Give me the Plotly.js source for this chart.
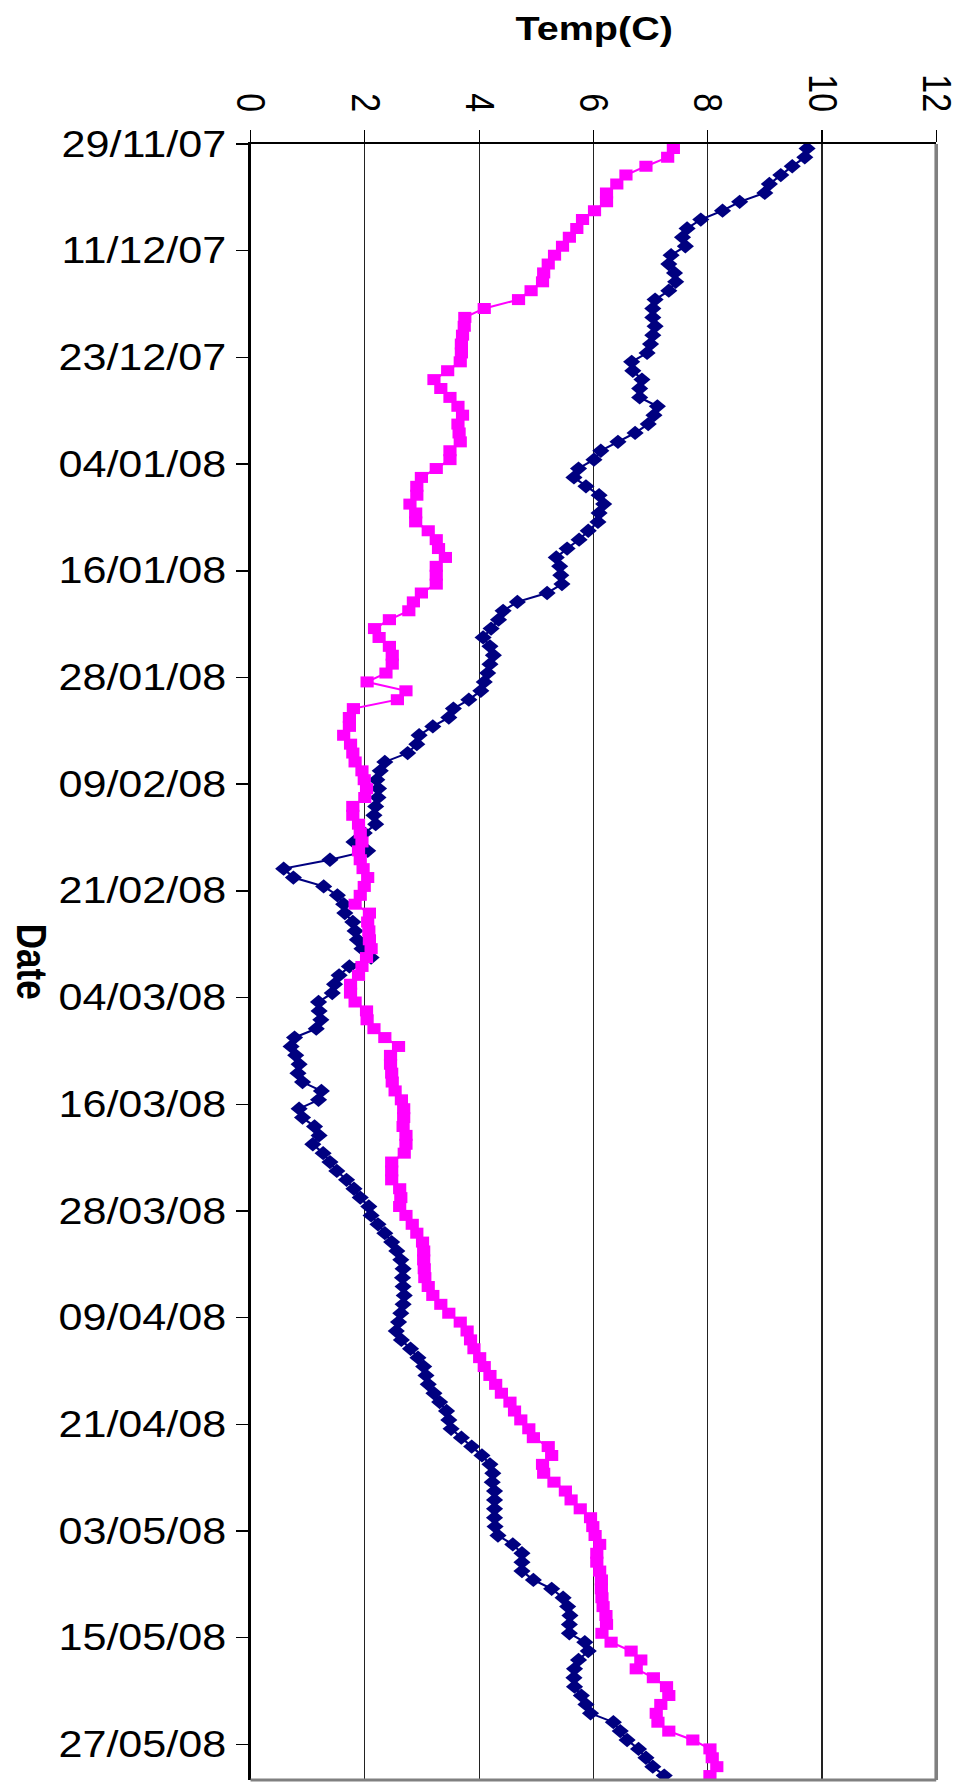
<!DOCTYPE html>
<html>
<head>
<meta charset="utf-8">
<script src="https://cdn.plot.ly/plotly-3.0.1.min.js"></script>
<style>
  html, body { margin: 0; padding: 0; background: #fff; }
  #wrap { width: 959px; height: 1784px; overflow: hidden; position: relative; }
  /* the original picture is stretched horizontally; reproduce that */
  #chart { width: 800px; height: 1784px; transform: scaleX(1.19875); transform-origin: 0 0; }
</style>
</head>
<body>
<div id="wrap"><div id="chart"></div></div>
<script>
// First date of the daily series
const startDate = "2007-11-29";

// Series 1 (navy diamonds), temperature in deg C, one value per day
const series1 = [
  9.74, 9.70, 9.48, 9.28, 9.08, 9.00, 8.56, 8.26, 7.88, 7.64,
  7.56, 7.61, 7.36, 7.32, 7.42, 7.44, 7.32, 7.08, 7.04, 7.04,
  7.08, 7.04, 7.00, 6.94, 6.67, 6.69, 6.85, 6.81, 6.81, 7.12,
  7.06, 6.96, 6.73, 6.43, 6.13, 6.01, 5.74, 5.66, 5.87, 6.10,
  6.18, 6.10, 6.08, 5.91, 5.75, 5.54, 5.35, 5.41, 5.43, 5.45,
  5.19, 4.67, 4.42, 4.34, 4.21, 4.07, 4.19, 4.25, 4.19, 4.15,
  4.09, 4.03, 3.82, 3.55, 3.47, 3.19, 2.95, 2.91, 2.75, 2.35,
  2.27, 2.21, 2.24, 2.23, 2.19, 2.16, 2.19, 1.99, 1.81, 2.05,
  1.39, 0.58, 0.75, 1.28, 1.52, 1.63, 1.65, 1.79, 1.83, 1.87,
  1.95, 2.11, 1.73, 1.55, 1.47, 1.43, 1.19, 1.20, 1.23, 1.15,
  0.77, 0.71, 0.79, 0.85, 0.83, 0.91, 1.24, 1.19, 0.85, 0.91,
  1.12, 1.20, 1.09, 1.27, 1.39, 1.51, 1.68, 1.81, 1.92, 2.07,
  2.11, 2.23, 2.35, 2.47, 2.56, 2.63, 2.67, 2.66, 2.67, 2.69,
  2.67, 2.63, 2.59, 2.55, 2.64, 2.80, 2.93, 3.03, 3.07, 3.11,
  3.21, 3.31, 3.43, 3.47, 3.51, 3.69, 3.87, 4.05, 4.19, 4.24,
  4.23, 4.27, 4.27, 4.27, 4.27, 4.28, 4.33, 4.59, 4.75, 4.75,
  4.75, 4.95, 5.27, 5.47, 5.55, 5.59, 5.58, 5.58, 5.85, 5.91,
  5.74, 5.67, 5.66, 5.67, 5.79, 5.87, 5.95, 6.35, 6.47, 6.59,
  6.79, 6.92, 7.04, 7.24
];

// Series 2 (magenta squares), temperature in deg C, one value per day
const series2 = [
  7.40, 7.30, 6.92, 6.57, 6.41, 6.23, 6.23, 6.02, 5.81, 5.71,
  5.58, 5.46, 5.32, 5.21, 5.13, 5.11, 4.91, 4.69, 4.09, 3.75,
  3.74, 3.71, 3.69, 3.69, 3.67, 3.45, 3.21, 3.33, 3.49, 3.63,
  3.71, 3.63, 3.65, 3.67, 3.49, 3.49, 3.25, 2.99, 2.91, 2.91,
  2.79, 2.89, 2.89, 3.11, 3.25, 3.29, 3.41, 3.25, 3.25, 3.25,
  2.99, 2.85, 2.77, 2.43, 2.17, 2.25, 2.43, 2.48, 2.48, 2.37,
  2.04, 2.72, 2.57, 1.80, 1.73, 1.73, 1.63, 1.75, 1.79, 1.83,
  1.95, 1.99, 2.03, 2.00, 1.79, 1.79, 1.89, 1.92, 1.95, 1.89,
  1.92, 1.97, 2.05, 1.99, 1.92, 1.83, 2.08, 2.05, 2.07, 2.08,
  2.11, 2.03, 1.95, 1.89, 1.75, 1.75, 1.83, 2.03, 2.04, 2.16,
  2.35, 2.59, 2.45, 2.45, 2.47, 2.48, 2.53, 2.64, 2.68, 2.68,
  2.67, 2.72, 2.72, 2.69, 2.47, 2.47, 2.47, 2.61, 2.63, 2.61,
  2.72, 2.83, 2.91, 3.01, 3.03, 3.03, 3.04, 3.05, 3.11, 3.19,
  3.33, 3.47, 3.67, 3.79, 3.85, 3.91, 4.01, 4.09, 4.19, 4.29,
  4.39, 4.54, 4.62, 4.73, 4.87, 4.95, 5.21, 5.27, 5.11, 5.13,
  5.31, 5.51, 5.61, 5.77, 5.95, 5.99, 6.03, 6.11, 6.06, 6.06,
  6.11, 6.14, 6.14, 6.15, 6.17, 6.22, 6.23, 6.15, 6.31, 6.66,
  6.83, 6.75, 7.05, 7.28, 7.32, 7.18, 7.10, 7.13, 7.32, 7.74,
  8.04, 8.08, 8.16, 8.04
];

// Axis texts and ranges
const xTitle = "Temp(C)";
const yTitle = "Date";
const xTicks = [0, 2, 4, 6, 8, 10, 12];
const dateRange = ["2007-11-29", "2008-05-31"];

// Daily dates (plotted mid-day, between tick marks as in the original)
function buildDates(start, n) {
  const p = start.split("-").map(Number);
  const base = Date.UTC(p[0], p[1] - 1, p[2], 12);
  const out = [];
  for (let i = 0; i < n; i++) {
    const d = new Date(base + i * 86400000);
    out.push(d.getUTCFullYear() + "-" +
      String(d.getUTCMonth() + 1).padStart(2, "0") + "-" +
      String(d.getUTCDate()).padStart(2, "0") + " 12:00");
  }
  return out;
}
const dates1 = buildDates(startDate, series1.length);
const dates2 = buildDates(startDate, series2.length);

const FONT = "Liberation Sans, Arial, Helvetica, sans-serif";
const SX = 959 / 800;   // horizontal stretch applied by CSS

const traces = [
  {
    type: "scatter", mode: "lines+markers", name: "Series1",
    x: series1, y: dates1,
    line: { color: "#000080", width: 2 },
    marker: { symbol: "diamond", size: 11, color: "#000080" }
  },
  {
    type: "scatter", mode: "lines+markers", name: "Series2",
    x: series2, y: dates2,
    line: { color: "#FF00FF", width: 2 },
    marker: { symbol: "square", size: 11, color: "#FF00FF" }
  }
];

const mL = 250 / SX, mR = 23 / SX;

const layout = {
  width: 800, height: 1784,
  margin: { l: mL, r: mR, t: 144, b: 4, pad: 0 },
  paper_bgcolor: "#ffffff",
  plot_bgcolor: "#ffffff",
  showlegend: false,
  font: { family: FONT, size: 35, color: "#000" },
  xaxis: {
    side: "top",
    range: [0, 12],
    tickvals: xTicks,
    ticktext: xTicks.map(String),
    tickangle: 90,
    ticks: "outside", ticklen: 12, tickwidth: 1, tickcolor: "#000",
    ticklabelstandoff: 6,
    ticklabeloverflow: "allow",
    showgrid: true, gridcolor: "#222", gridwidth: 1,
    zeroline: false,
    showline: true, linecolor: "#000", linewidth: 2,
    tickfont: { family: FONT, size: 34, color: "#000" },
    automargin: false,
    fixedrange: true
  },
  yaxis: {
    type: "date",
    range: [dateRange[1], dateRange[0]],
    tick0: dateRange[0],
    dtick: 12 * 86400000,
    tickformat: "%d/%m/%y",
    ticks: "outside", ticklen: 10, tickwidth: 1.5, tickcolor: "#000",
    ticklabelstandoff: 1,
    showgrid: false,
    zeroline: false,
    showline: true, linecolor: "#000", linewidth: 2,
    tickfont: { family: FONT, size: 36, color: "#000" },
    automargin: false,
    fixedrange: true
  },
  shapes: [
    { type: "line", xref: "paper", yref: "paper", x0: 1, x1: 1, y0: 0, y1: 1,
      line: { color: "#808080", width: 3 } },
    { type: "line", xref: "paper", yref: "paper", x0: 0, x1: 1, y0: 0, y1: 0,
      line: { color: "#808080", width: 3 } }
  ],
  annotations: [
    { text: "<b>" + xTitle + "</b>", xref: "paper", yref: "paper",
      x: 0.5, y: 1 + (144 - 29) / 1636, xanchor: "center", yanchor: "middle",
      showarrow: false, font: { family: FONT, size: 33, color: "#000" } },
    { text: "<b>" + yTitle + "</b>", xref: "paper", yref: "paper",
      x: (32 - 250) / 686, y: 0.5, xanchor: "center", yanchor: "middle",
      textangle: 90,
      showarrow: false, font: { family: FONT, size: 35, color: "#000" } }
  ]
};

Plotly.newPlot("chart", traces, layout, { displayModeBar: false, staticPlot: true });
</script>
</body>
</html>
